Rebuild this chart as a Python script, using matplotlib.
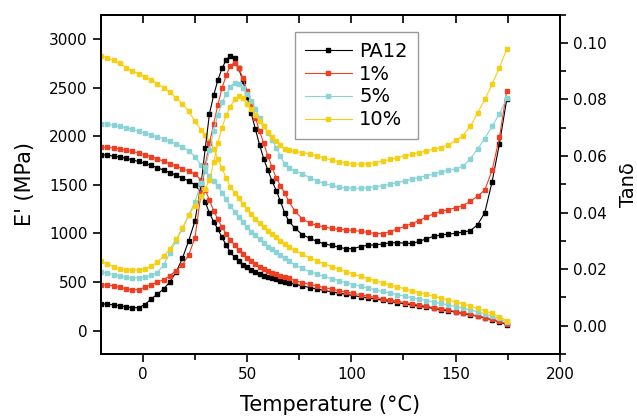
# -*- coding: utf-8 -*-
import matplotlib
matplotlib.use("Agg")
import matplotlib.pyplot as plt
from matplotlib.ticker import MultipleLocator

# temperature (C), shared by every sample
temp = [-20, -17, -14, -11, -8, -5, -2, 1, 4, 7, 10, 13, 16, 19, 22, 25, 28,
        30, 32, 34, 36, 38, 40, 42, 44, 46, 48, 50, 52, 54, 56, 58, 60, 62, 64, 66, 68, 70,
        73, 76.5, 80, 83.5, 87, 90.5, 94, 97.5, 101, 104.5, 108, 111.5, 115, 118.5, 122, 125.5,
        129, 132.5, 136, 139.5, 143, 146.5, 150, 153.5, 157, 160.5, 164, 167.5, 171, 174.5]

labels = ['PA12', '1%', '5%', '10%']
colors = ['#000000', '#ee3f22', '#8ad3d6', '#f6cf12']

# storage modulus E' (MPa)
e_pa12 = [1810, 1805, 1795, 1785, 1772, 1757, 1740, 1720, 1700, 1677, 1650, 1625, 1598, 1570, 1540, 1500, 1420,
          1320, 1210, 1120, 1045, 960, 880, 810, 755, 715, 680, 650, 622, 600, 582, 566, 552, 540, 528, 516, 505, 494,
          478, 460, 444, 428, 414, 400, 387, 374, 361, 349, 337, 325, 313, 301, 289, 277, 265, 253, 241, 229,
          217, 204, 191, 177, 163, 148, 132, 113, 92, 60]
e_1 = [1890, 1885, 1877, 1868, 1857, 1843, 1828, 1810, 1790, 1768, 1742, 1717, 1692, 1667, 1642, 1610, 1550,
       1450, 1340, 1235, 1145, 1065, 995, 935, 880, 830, 785, 745, 712, 683, 658, 636, 616, 598, 581, 565, 550, 537,
       515, 495, 476, 460, 444, 428, 413, 398, 384, 370, 356, 342, 329, 316, 303, 290, 277, 264, 251, 238,
       225, 211, 197, 183, 168, 152, 135, 117, 97, 68]
e_5 = [2130, 2122, 2112, 2100, 2088, 2070, 2052, 2033, 2012, 1992, 1975, 1950, 1920, 1888, 1850, 1790, 1700,
       1640, 1590, 1540, 1485, 1420, 1350, 1280, 1225, 1170, 1115, 1065, 1020, 980, 940, 900, 865, 835, 805, 775, 745, 715,
       678, 642, 608, 582, 558, 536, 515, 494, 475, 456, 438, 421, 404, 387, 371, 355, 340, 325, 310, 295,
       280, 264, 248, 231, 213, 194, 174, 152, 127, 85]
e_10 = [2825, 2805, 2780, 2750, 2705, 2672, 2641, 2610, 2580, 2540, 2500, 2452, 2395, 2333, 2255, 2153, 2065,
        2010, 1950, 1870, 1770, 1670, 1570, 1480, 1420, 1360, 1305, 1250, 1200, 1150, 1105, 1065, 1030, 995, 960, 925, 892, 860,
        825, 785, 750, 718, 688, 660, 633, 607, 582, 558, 535, 513, 492, 471, 451, 431, 411, 392, 373, 354,
        335, 315, 295, 274, 252, 229, 204, 177, 146, 100]

# loss factor tan delta
t_pa12 = [0.0078, 0.0076, 0.0074, 0.0071, 0.0067, 0.0064, 0.0064, 0.0075, 0.0094, 0.0112, 0.0130, 0.0155, 0.0190, 0.0238, 0.0300, 0.0370, 0.0500,
          0.0630, 0.0750, 0.0815, 0.0868, 0.0910, 0.0940, 0.0955, 0.0945, 0.0910, 0.0866, 0.0810, 0.0752, 0.0695, 0.0640, 0.0590, 0.0550, 0.0512, 0.0478, 0.0440, 0.0400, 0.0370,
          0.0345, 0.0322, 0.0310, 0.0298, 0.0290, 0.0284, 0.0278, 0.0272, 0.0273, 0.0280, 0.0285, 0.0286, 0.0289, 0.0293, 0.0294, 0.0292,
          0.0291, 0.0298, 0.0308, 0.0316, 0.0321, 0.0324, 0.0327, 0.0331, 0.0336, 0.0357, 0.0400, 0.0510, 0.0644, 0.0800]
t_1 = [0.0145, 0.0144, 0.0141, 0.0136, 0.0131, 0.0127, 0.0128, 0.0136, 0.0145, 0.0154, 0.0163, 0.0177, 0.0195, 0.0215, 0.0250, 0.0310, 0.0470,
       0.0570, 0.0645, 0.0715, 0.0780, 0.0840, 0.0885, 0.0920, 0.0930, 0.0910, 0.0877, 0.0830, 0.0785, 0.0735, 0.0688, 0.0645, 0.0600, 0.0560, 0.0522, 0.0495, 0.0470, 0.0440,
       0.0405, 0.0378, 0.0363, 0.0355, 0.0349, 0.0344, 0.0341, 0.0339, 0.0337, 0.0334, 0.0330, 0.0326, 0.0326, 0.0333, 0.0342, 0.0351,
       0.0361, 0.0372, 0.0384, 0.0396, 0.0405, 0.0411, 0.0417, 0.0425, 0.0440, 0.0458, 0.0480, 0.0550, 0.0666, 0.0830]
t_5 = [0.0190, 0.0186, 0.0181, 0.0176, 0.0172, 0.0169, 0.0170, 0.0173, 0.0178, 0.0188, 0.0215, 0.0257, 0.0300, 0.0343, 0.0390, 0.0438, 0.0505,
       0.0560, 0.0620, 0.0690, 0.0745, 0.0790, 0.0818, 0.0845, 0.0860, 0.0855, 0.0840, 0.0820, 0.0795, 0.0765, 0.0736, 0.0708, 0.0682, 0.0656, 0.0630, 0.0600, 0.0572, 0.0556,
       0.0548, 0.0538, 0.0524, 0.0512, 0.0503, 0.0496, 0.0490, 0.0487, 0.0486, 0.0486, 0.0488, 0.0491, 0.0495, 0.0500, 0.0506, 0.0512,
       0.0518, 0.0524, 0.0530, 0.0536, 0.0543, 0.0549, 0.0555, 0.0564, 0.0590, 0.0625, 0.0662, 0.0706, 0.0749, 0.0805]
t_10 = [0.0229, 0.0218, 0.0209, 0.0202, 0.0198, 0.0197, 0.0198, 0.0202, 0.0210, 0.0225, 0.0245, 0.0272, 0.0305, 0.0345, 0.0390, 0.0425, 0.0460,
        0.0485, 0.0515, 0.0578, 0.0645, 0.0700, 0.0745, 0.0775, 0.0800, 0.0812, 0.0805, 0.0785, 0.0765, 0.0745, 0.0725, 0.0705, 0.0686, 0.0668, 0.0652, 0.0638, 0.0626, 0.0620,
        0.0617, 0.0612, 0.0607, 0.0600, 0.0593, 0.0586, 0.0580, 0.0575, 0.0572, 0.0571, 0.0573, 0.0577, 0.0582, 0.0588, 0.0594, 0.0600,
        0.0606, 0.0612, 0.0618, 0.0624, 0.0630, 0.0640, 0.0655, 0.0672, 0.0705, 0.0752, 0.0800, 0.0854, 0.0913, 0.0978]

moduli = [e_pa12, e_1, e_5, e_10]
tands = [t_pa12, t_1, t_5, t_10]


def draw():
    fig = plt.figure(figsize=(6.37, 4.18), dpi=100)
    ax = fig.add_axes([0.1586, 0.153, 0.7204, 0.812])
    ax2 = ax.twinx()

    for i in range(len(labels)):
        ax.plot(temp, moduli[i], color=colors[i], lw=0.8, marker='s', ms=2.7,
                mec=colors[i], mfc=colors[i], label=labels[i])
        ax2.plot(temp, tands[i], color=colors[i], lw=0.8, marker='s', ms=2.7,
                 mec=colors[i], mfc=colors[i])

    ax.set_xlim(-20, 200)
    ax.set_ylim(-240, 3250)
    ax2.set_ylim(-0.01, 0.11)

    ax.xaxis.set_major_locator(MultipleLocator(50))
    ax.xaxis.set_minor_locator(MultipleLocator(25))
    ax.yaxis.set_major_locator(MultipleLocator(500))
    ax2.yaxis.set_major_locator(MultipleLocator(0.02))
    ax2.yaxis.set_minor_locator(MultipleLocator(0.01))
    ax2.yaxis.set_major_formatter(plt.FormatStrFormatter('%.2f'))

    ax.tick_params(axis='both', which='major', direction='out', length=6, width=1.2, labelsize=11)
    ax.tick_params(axis='x', which='minor', direction='out', length=4, width=1.2)
    ax2.tick_params(axis='y', which='major', direction='out', length=6, width=1.2, labelsize=11)
    ax2.tick_params(axis='y', which='minor', direction='out', length=4, width=1.2)

    top = ax.secondary_xaxis('top')
    top.xaxis.set_major_locator(MultipleLocator(50))
    top.xaxis.set_minor_locator(MultipleLocator(25))
    top.tick_params(which='both', direction='in', length=6, width=1.2, labeltop=False)

    for a in [ax, ax2]:
        for s in a.spines.values():
            s.set_linewidth(1.4)
    top.spines['top'].set_linewidth(1.4)

    ax.set_xlabel('Temperature (°C)', fontsize=15, labelpad=9)
    ax.set_ylabel("E' (MPa)", fontsize=15, labelpad=10)
    ax2.set_ylabel('Tanδ', fontsize=14, labelpad=9)

    leg = ax.legend(loc='upper left', bbox_to_anchor=(0.423, 0.949), fontsize=14,
                    frameon=True, fancybox=False, edgecolor='#808080',
                    handlelength=2.4, labelspacing=0.2, borderaxespad=0,
                    borderpad=0.5, handletextpad=0.4, markerscale=1.1)
    leg.get_frame().set_linewidth(1.0)

    fig.savefig('out.png', dpi=100)


if __name__ == "__main__":
    draw()
